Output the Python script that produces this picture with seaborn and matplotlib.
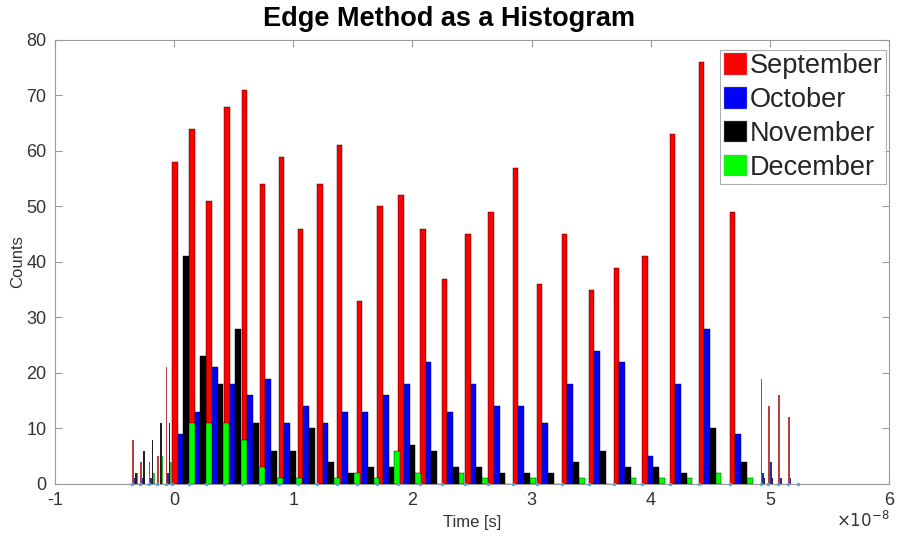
#!/usr/bin/env python3

import matplotlib
matplotlib.use("Agg")
import matplotlib.pyplot as plt
import numpy as np
import seaborn as sns

# bin edges (x in units of 1e-8 s)
main_edges = [-0.018, 0.125, 0.270, 0.419, 0.567, 0.718, 0.878, 1.037, 1.199,
              1.365, 1.531, 1.705, 1.881, 2.063, 2.245, 2.441, 2.637, 2.842,
              3.043, 3.253, 3.478, 3.688, 3.926, 4.158, 4.402, 4.663]
thin_edges = [-0.353, -0.283, -0.214, -0.143, -0.071,
              4.924, 4.988, 5.072, 5.154]
last_edge = 5.24

months = ["September", "October", "November", "December"]
colors = ["red", "blue", "black", "lime"]

sep_main = [58, 64, 51, 68, 71, 54, 59, 46, 54, 61, 33, 50, 52, 46, 37, 45,
            49, 57, 36, 45, 35, 39, 41, 63, 76, 49]
oct_main = [9, 13, 21, 18, 16, 19, 11, 14, 11, 13, 13, 16, 18, 22, 13, 18,
            14, 14, 11, 18, 24, 22, 5, 18, 28, 9]
nov_main = [41, 23, 18, 28, 11, 6, 6, 10, 4, 2, 3, 3, 7, 6, 3, 3,
            2, 2, 2, 4, 6, 3, 3, 2, 10, 4]
dec_main = [11, 11, 11, 8, 3, 1, 1, 0, 1, 2, 1, 6, 2, 0, 2, 1,
            0, 1, 0, 1, 0, 1, 1, 1, 2, 1]

sep_thin = [8, 4, 4, 5, 21, 19, 14, 16, 12]
oct_thin = [1, 1, 1, 0, 2, 2, 4, 1, 1]
nov_thin = [2, 6, 8, 11, 11, 1, 1, 0, 0]
dec_thin = [2, 0, 2, 5, 4, 0, 0, 0, 0]

main_counts = [sep_main, oct_main, nov_main, dec_main]
thin_counts = [sep_thin, oct_thin, nov_thin, dec_thin]

sns.set_theme(style="ticks")
plt.rcParams["font.family"] = ["Liberation Sans", "DejaVu Sans"]
plt.rcParams["axes.unicode_minus"] = False

fig = plt.figure(figsize=(8.98, 5.38), dpi=100)
ax = fig.add_axes([0.0612, 0.1004, 0.9288, 0.8253])

w_main = 0.048
w_thin = 0.013
thin_colors = ["#b84040", "#2a2a9a", "#202020", "#3cb03c"]
for i, (name, col) in enumerate(zip(months, colors)):
    ax.bar(np.array(main_edges) + i * w_main, main_counts[i], width=w_main,
           align="edge", color=col, edgecolor="black", linewidth=0.3,
           label=name, zorder=2)
    ax.bar(np.array(thin_edges) + i * w_thin, thin_counts[i], width=w_thin,
           align="edge", color=thin_colors[i], linewidth=0, zorder=2)

dots = main_edges + thin_edges + [last_edge]
ax.scatter(dots, np.zeros(len(dots)), s=6, color="#4fa3e3", zorder=3,
           clip_on=False, linewidths=0)

ax.set_xlim(-1, 6)
ax.set_ylim(0, 80)
ax.set_xticks(range(-1, 7))
ax.set_yticks(range(0, 81, 10))

grey = "#9a9a9a"
for s in ax.spines.values():
    s.set_color(grey)
    s.set_linewidth(0.8)
ax.tick_params(direction="in", length=5, width=0.8, color=grey,
               labelsize=13, labelcolor="#333333", top=True, right=True, pad=6)

ax.set_xlabel("Time [s]", fontsize=12, color="#333333", labelpad=4)
ax.set_ylabel("Counts", fontsize=12, color="#333333", labelpad=1)
ax.text(1.0, -0.08, r"$\times10^{-8}$", transform=ax.transAxes, ha="right",
        va="center", fontsize=12, color="#333333")

fig.text(0.5, 1 - 19 / 538, "Edge Method as a Histogram", ha="center",
         va="center", fontsize=19.5, fontweight="bold", color="black")

leg = ax.legend(loc="upper right", bbox_to_anchor=(886 / 898, 1 - 50 / 538),
                bbox_transform=fig.transFigure, borderaxespad=0,
                fontsize=19.5, frameon=True, fancybox=False,
                handlelength=0.85, handleheight=0.85, handletextpad=0.12,
                labelspacing=0.28, borderpad=0.12)
leg.get_frame().set_edgecolor(grey)
leg.get_frame().set_linewidth(0.8)
for p in leg.get_patches():
    p.set_edgecolor(grey)

fig.savefig("out.png", dpi=100)
